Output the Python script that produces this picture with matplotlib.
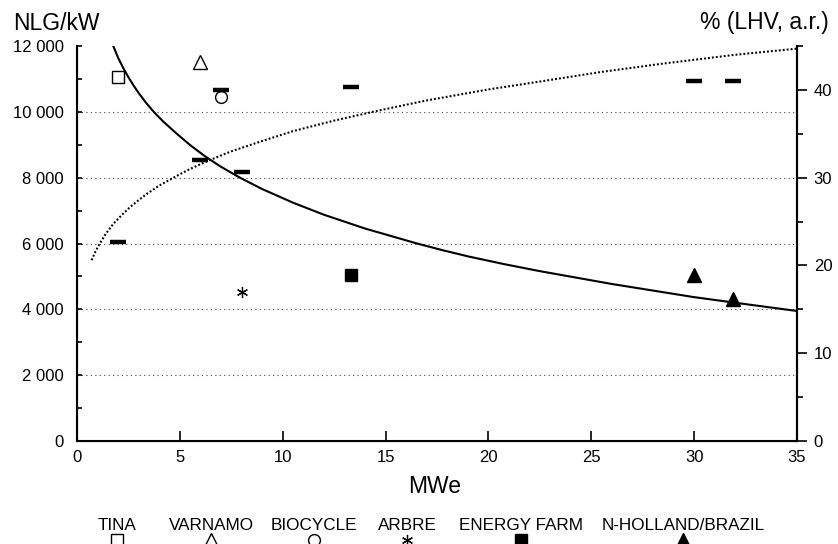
import matplotlib
matplotlib.use("Agg")
import matplotlib.pyplot as plt
from matplotlib.lines import Line2D
from matplotlib.ticker import MultipleLocator, FuncFormatter

plt.rcParams['font.family'] = ['Liberation Sans', 'DejaVu Sans']

# plants (legend order)
plants = ["TINA", "VARNAMO", "BIOCYCLE", "ARBRE", "ENERGY FARM", "N-HOLLAND/BRAZIL"]

# specific investment costs, NLG/kW (left axis)
cost_plant = ["TINA", "VARNAMO", "BIOCYCLE", "ARBRE", "ENERGY FARM",
              "N-HOLLAND/BRAZIL", "N-HOLLAND/BRAZIL"]
cost_mwe = [2, 6, 7, 8, 13.3, 30, 31.9]
cost_nlg = [11070, 11500, 10440, 4530, 5050, 5050, 4300]

# net efficiencies, % LHV a.r. (right axis)
eff_mwe = [2, 6, 7, 8, 13.3, 30, 31.9]
eff_pct = [22.7, 32.0, 40.0, 30.6, 40.3, 41.0, 41.0]

# trend curves
cost_curve_mwe = [1.77, 2.0, 2.25, 2.5, 2.75, 3.0, 3.35, 3.73, 4.2, 4.85, 5.5, 6.2,
                  7.0, 7.92, 9, 10.5, 12, 14, 16.5, 17.75, 19, 20.75, 22.5, 26, 30,
                  32, 35]
cost_curve_nlg = [11990, 11640, 11330, 11050, 10800, 10570, 10280, 10000, 9700, 9335,
                  8990, 8660, 8330, 8000, 7655, 7240, 6875, 6455, 6005, 5800, 5610,
                  5375, 5160, 4770, 4370, 4200, 3950]
eff_curve_mwe = [0.71, 0.9, 1.12, 1.4, 1.77, 2.2, 2.58, 3.0, 3.39, 4.0, 4.85, 5.5,
                 6.3, 7.44, 8.9, 10.5, 12.5, 14.57, 17, 20, 22.5, 25.5, 28.5, 32, 35]
eff_curve_pct = [20.6, 21.6, 22.55, 23.6, 24.75, 25.8, 26.65, 27.45, 28.15, 29.1,
                 30.2, 31.0, 31.85, 32.95, 34.1, 35.3, 36.5, 37.6, 38.8, 40.05, 40.95,
                 42.05, 43.0, 44.0, 44.7]

# dotted reference levels on the cost axis
grid_levels = [2000, 4000, 6000, 8000, 10000]

styles = {
    "TINA": dict(marker="s", ms=8, mfc="white", mec="black", mew=1.0),
    "VARNAMO": dict(marker="^", ms=10.5, mfc="white", mec="black", mew=1.0),
    "BIOCYCLE": dict(marker="o", ms=8.5, mfc="white", mec="black", mew=1.0),
    "ARBRE": dict(marker=(6, 2, 0), ms=8, mfc="black", mec="black", mew=0.9),
    "ENERGY FARM": dict(marker="s", ms=8, mfc="black", mec="black", mew=1.0),
    "N-HOLLAND/BRAZIL": dict(marker="^", ms=10.5, mfc="black", mec="black", mew=1.0),
}

fig = plt.figure(figsize=(8.38, 5.44), dpi=100)
ax = fig.add_axes([77 / 838, 103 / 544, 720 / 838, 395 / 544])
ax2 = ax.twinx()

# left axis
ax.set_xlim(0, 35)
ax.set_ylim(0, 12000)
ax.xaxis.set_major_locator(MultipleLocator(5))
ax.set_yticks([0, 2000, 4000, 6000, 8000, 10000, 12000])
ax.yaxis.set_minor_locator(MultipleLocator(1000))
ax.yaxis.set_major_formatter(FuncFormatter(lambda v, p: f"{int(v):,}".replace(",", " ")))
ax.tick_params(axis="x", direction="in", length=7, width=1.2, pad=6.5, labelsize=12)
ax.tick_params(axis="y", which="both", direction="in", length=3.5, width=1.2,
               pad=9.5, labelsize=12)
for level in grid_levels:
    ax.axhline(level, linestyle=(0, (1, 3)), linewidth=0.8, color="#444444", zorder=1)
ax.spines["top"].set_visible(False)
for s in ["left", "bottom", "right"]:
    ax.spines[s].set_linewidth(1.5)

# right axis
ax2.set_ylim(0, 45)
ax2.yaxis.set_major_locator(MultipleLocator(10))
ax2.yaxis.set_minor_locator(MultipleLocator(5))
ax2.tick_params(axis="y", which="major", direction="out", length=7, width=1.2,
                pad=5, labelsize=12)
ax2.tick_params(axis="y", which="minor", direction="out", length=4, width=1.2)
ax2.spines["top"].set_visible(False)
ax2.spines["right"].set_linewidth(1.5)

# curves
ax.plot(cost_curve_mwe, cost_curve_nlg, color="black", lw=1.5, zorder=3)
ax2.plot(eff_curve_mwe, eff_curve_pct, color="black", lw=1.5,
         linestyle=(0, (0.9, 1.0)), zorder=3)

# cost points
for name, x, y in zip(cost_plant, cost_mwe, cost_nlg):
    ax.plot([x], [y], linestyle="none", zorder=4, **styles[name])

# efficiency points
ax2.plot(eff_mwe, eff_pct, linestyle="none", marker="_", ms=12, mew=3.2,
         color="black", zorder=4)

# axis titles
fig.text(13 / 838, 1 - 29.5 / 544, "NLG/kW", fontsize=16.5, ha="left", va="baseline")
fig.text(829 / 838, 1 - 29.5 / 544, "% (LHV, a.r.)", fontsize=16.5, ha="right",
         va="baseline")
fig.text(435 / 838, 1 - 493 / 544, "MWe", fontsize=16.5, ha="center", va="baseline")

# legend below the chart
legend_x = [117, 211, 314, 407, 521, 683]
for name, lx in zip(plants, legend_x):
    fig.text(lx / 838, 1 - 530 / 544, name, fontsize=12.3, ha="center", va="baseline")
    fig.add_artist(Line2D([lx / 838], [1 - 540 / 544], transform=fig.transFigure,
                          linestyle="none", **styles[name]))

fig.savefig("out.png", dpi=100)
